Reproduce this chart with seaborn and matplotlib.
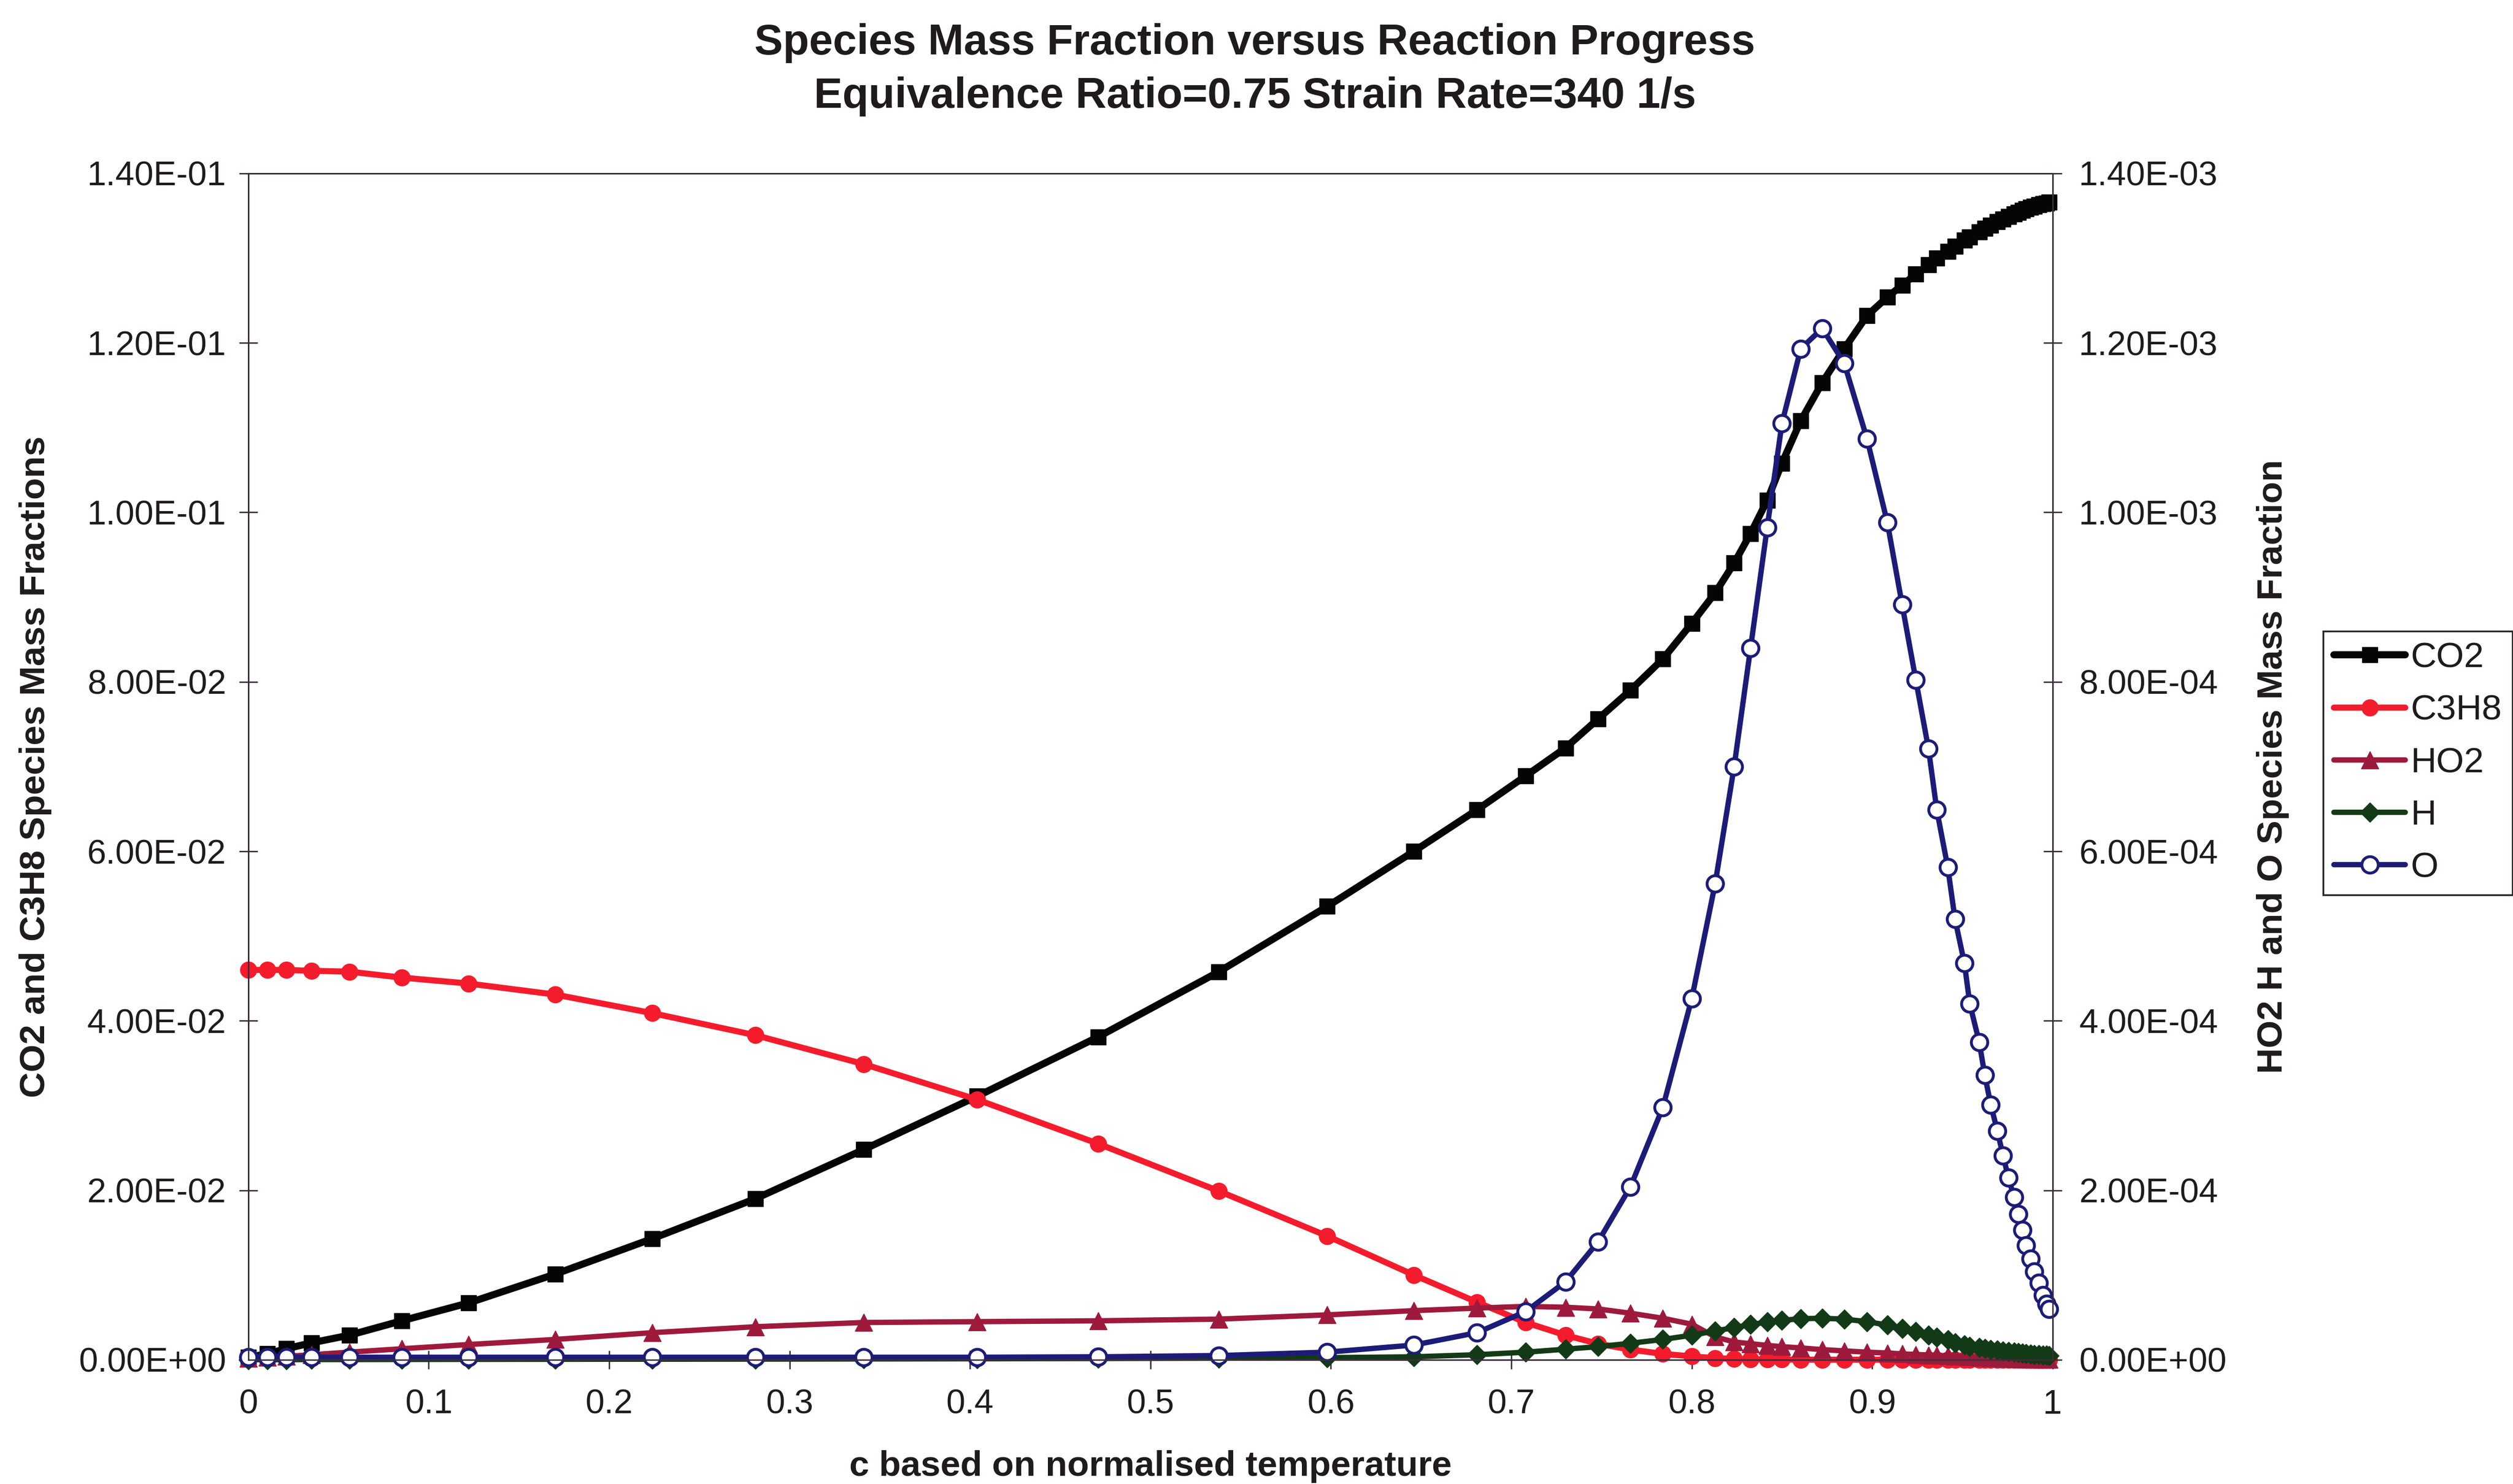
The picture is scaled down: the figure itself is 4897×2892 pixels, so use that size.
import matplotlib
matplotlib.use("Agg")
import matplotlib.pyplot as plt
from matplotlib.ticker import FuncFormatter, MultipleLocator
import seaborn as sns

# ---------------- data ----------------
c_progress = [0.0, 0.0105, 0.021, 0.035, 0.056, 0.085, 0.122, 0.170, 0.224, 0.281,
              0.341, 0.404, 0.471, 0.538, 0.598, 0.646, 0.681, 0.708, 0.730, 0.748,
              0.766, 0.784, 0.800, 0.813, 0.8235, 0.8326, 0.8418, 0.850, 0.8604, 0.8723,
              0.8845, 0.8971, 0.9084, 0.9166, 0.9242, 0.9312, 0.9358, 0.9419, 0.9459, 0.9511,
              0.9541, 0.9593, 0.9624, 0.9657, 0.9694, 0.9725, 0.9755, 0.9786, 0.9810, 0.9832,
              0.9853, 0.9877, 0.9899, 0.9923, 0.9945, 0.9965, 0.9980]

co2 = [0.0003, 0.0007, 0.0013, 0.0020, 0.0029, 0.0046, 0.0067, 0.0101, 0.0143, 0.0190,
       0.0248, 0.0311, 0.0381, 0.0458, 0.0535, 0.0600, 0.0649, 0.0689, 0.0722, 0.0756,
       0.0790, 0.0827, 0.0869, 0.0905, 0.0940, 0.0975, 0.1014, 0.1058, 0.1108, 0.1153,
       0.1193, 0.1232, 0.1254, 0.1268, 0.1281, 0.1292, 0.1300, 0.1308, 0.1314, 0.1321,
       0.1325, 0.1331, 0.1335, 0.1339, 0.1343, 0.1346, 0.1349, 0.1352, 0.1354, 0.1356,
       0.1358, 0.1360, 0.1361, 0.1363, 0.1364, 0.1365, 0.1366]

c3h8 = [0.0460, 0.0460, 0.0460, 0.0459, 0.0458, 0.0451, 0.0444, 0.0431, 0.0409, 0.0383,
        0.0349, 0.0307, 0.0255, 0.0199, 0.0146, 0.0100, 0.0068, 0.0044, 0.0029, 0.0019,
        0.0012, 0.0007, 0.0004, 0.0002, 0.0001, 0.00006, 0.00004, 0.00003, 0.00002, 0.00001,
        0.00001, 0.00001, 0.00001, 0.00001, 0.00001, 0.00001, 0.00001, 0.00001, 0.00001, 0.00001,
        0.00001, 0.00001, 0.00001, 0.00001, 0.00001, 0.00001, 0.00001, 0.0, 0.0, 0.0,
        0.0, 0.0, 0.0, 0.0, 0.0, 0.0, 0.0]

ho2 = [2.0e-6, 3.0e-6, 4.0e-6, 6.0e-6, 9.0e-6, 13e-6, 18e-6, 24e-6, 32e-6, 39e-6,
       44e-6, 45e-6, 46e-6, 48e-6, 53e-6, 58e-6, 61e-6, 63e-6, 62e-6, 60e-6,
       55e-6, 49e-6, 42e-6, 27e-6, 21e-6, 19e-6, 17e-6, 15.5e-6, 14e-6, 12e-6,
       10.5e-6, 9.0e-6, 8.0e-6, 7.0e-6, 6.3e-6, 5.7e-6, 5.2e-6, 4.7e-6, 4.3e-6, 3.9e-6,
       3.5e-6, 3.1e-6, 2.8e-6, 2.5e-6, 2.2e-6, 1.9e-6, 1.7e-6, 1.5e-6, 1.3e-6, 1.1e-6,
       1.0e-6, 0.8e-6, 0.7e-6, 0.6e-6, 0.5e-6, 0.4e-6, 0.3e-6]

h_atom = [0.2e-6, 0.2e-6, 0.2e-6, 0.3e-6, 0.3e-6, 0.4e-6, 0.5e-6, 0.6e-6, 0.7e-6, 0.8e-6,
          1.0e-6, 1.2e-6, 1.5e-6, 1.9e-6, 2.5e-6, 3.5e-6, 6.0e-6, 9.0e-6, 12.5e-6, 15.5e-6,
          19.5e-6, 24e-6, 29e-6, 34e-6, 38e-6, 41.5e-6, 44.5e-6, 46.5e-6, 48.5e-6, 49e-6,
          48e-6, 45e-6, 41e-6, 37e-6, 33e-6, 29e-6, 26.5e-6, 23.5e-6, 20e-6, 17.5e-6,
          16e-6, 14.3e-6, 13.3e-6, 12.3e-6, 11.4e-6, 10.5e-6, 9.7e-6, 8.9e-6, 8.2e-6, 7.6e-6,
          7.1e-6, 6.6e-6, 6.2e-6, 5.8e-6, 5.5e-6, 5.2e-6, 5.0e-6]

o_atom = [3e-6, 3e-6, 3e-6, 3e-6, 3e-6, 3e-6, 3e-6, 3e-6, 3e-6, 3e-6,
          3e-6, 3e-6, 3.5e-6, 5e-6, 9e-6, 17.4e-6, 32e-6, 57e-6, 92e-6, 139e-6,
          204e-6, 298e-6, 426e-6, 562e-6, 700e-6, 840e-6, 982e-6, 1105e-6, 1193e-6, 1217e-6,
          1176e-6, 1087e-6, 988e-6, 891e-6, 802e-6, 721e-6, 649e-6, 581e-6, 520e-6, 468e-6,
          420e-6, 375e-6, 336e-6, 301e-6, 270e-6, 241e-6, 215e-6, 192e-6, 172e-6, 153e-6,
          135e-6, 119e-6, 104e-6, 91e-6, 76e-6, 66e-6, 60e-6]

title_line1 = "Species Mass Fraction versus Reaction Progress"
title_line2 = "Equivalence Ratio=0.75 Strain Rate=340 1/s"
x_label = "c based on normalised temperature"
y_label_left = "CO2 and C3H8 Species Mass Fractions"
y_label_right = "HO2 H and O Species Mass Fraction"

# ---------------- style ----------------
sns.set_style("white")
plt.rcParams["font.family"] = ["Liberation Sans", "DejaVu Sans"]

AX_COL = "#3b2f3b"
TXT_COL = "#1e1a1e"
FS = 48
LFS = 50

fig = plt.figure(figsize=(48.97, 28.92), dpi=100)
fig.patch.set_facecolor("white")
ax = fig.add_axes([0.0988, 0.0837, 0.7180, 0.7995])
ax2 = ax.twinx()

# left-axis series
sns.lineplot(x=c_progress, y=co2, ax=ax, color="#050505", linewidth=10,
             marker="s", markersize=21, markeredgecolor="#050505", markeredgewidth=1,
             label="CO2", sort=False, estimator=None, legend=False, clip_on=False)
sns.lineplot(x=c_progress, y=c3h8, ax=ax, color="#f41c2c", linewidth=8.5,
             marker="o", markersize=23, markeredgecolor="#f41c2c", markeredgewidth=1,
             label="C3H8", sort=False, estimator=None, legend=False, clip_on=False)

# right-axis series
sns.lineplot(x=c_progress, y=ho2, ax=ax2, color="#9e1a3c", linewidth=7.5,
             marker="^", markersize=24, markeredgecolor="#9e1a3c", markeredgewidth=1,
             label="HO2", sort=False, estimator=None, legend=False, clip_on=False)
sns.lineplot(x=c_progress, y=h_atom, ax=ax2, color="#133a16", linewidth=7.5,
             marker="D", markersize=19, markeredgecolor="#133a16", markeredgewidth=1,
             label="H", sort=False, estimator=None, legend=False, clip_on=False)
sns.lineplot(x=c_progress, y=o_atom, ax=ax2, color="#1c1c78", linewidth=7.5,
             marker="o", markersize=23, markerfacecolor="white", markeredgecolor="#1c1c78",
             markeredgewidth=4, label="O", sort=False, estimator=None, legend=False,
             clip_on=False)

# ---------------- axes ----------------
ax.set_xlim(0, 1)
ax.set_ylim(0, 0.14)
ax2.set_ylim(0, 0.0014)

ax.xaxis.set_major_locator(MultipleLocator(0.1))
ax.yaxis.set_major_locator(MultipleLocator(0.02))
ax2.yaxis.set_major_locator(MultipleLocator(0.0002))

sci = FuncFormatter(lambda v, p: f"{v:.2E}")
ax.yaxis.set_major_formatter(sci)
ax2.yaxis.set_major_formatter(sci)
ax.xaxis.set_major_formatter(FuncFormatter(lambda v, p: f"{v:g}"))

ax.tick_params(axis="x", direction="inout", length=26, width=2, color=AX_COL,
               labelsize=FS, labelcolor=TXT_COL, pad=28, bottom=True, top=False)
ax.tick_params(axis="y", direction="inout", length=26, width=2, color=AX_COL,
               labelsize=FS, labelcolor=TXT_COL, pad=18, left=True, right=False)
ax2.tick_params(axis="y", direction="inout", length=26, width=2, color=AX_COL,
                labelsize=FS, labelcolor=TXT_COL, pad=24, right=True, left=False)

for a in (ax, ax2):
    for s in a.spines.values():
        s.set_color(AX_COL)
        s.set_linewidth(2)
    a.grid(False)

ax.set_xlabel(x_label, fontsize=LFS, fontweight="bold", color=TXT_COL)
ax.xaxis.set_label_coords(0.5, -0.090)
ax.xaxis.label.set_va("center")

ax.set_ylabel(y_label_left, fontsize=LFS, fontweight="bold", color=TXT_COL)
ax.yaxis.set_label_coords(-0.118, 0.5)
ax.yaxis.label.set_va("center")

ax2.set_ylabel(y_label_right, fontsize=LFS, fontweight="bold", color=TXT_COL)
ax2.yaxis.set_label_coords(1.122, 0.5)
ax2.yaxis.label.set_va("center")

# ---------------- titles ----------------
fig.text(0.4993, 0.971, title_line1, ha="center", va="center",
         fontsize=60, fontweight="bold", color=TXT_COL)
fig.text(0.4993, 0.935, title_line2, ha="center", va="center",
         fontsize=60, fontweight="bold", color=TXT_COL)

# ---------------- legend ----------------
h1, l1 = ax.get_legend_handles_labels()
h2, l2 = ax2.get_legend_handles_labels()
leg = fig.legend(h1 + h2, l1 + l2, loc="upper left", bbox_to_anchor=(0.9245, 0.5747),
                 frameon=True, fancybox=False, edgecolor="#2a222a", facecolor="white",
                 framealpha=1, fontsize=50, handlelength=2.0, handletextpad=0.15,
                 labelspacing=0.55, borderpad=0.3, borderaxespad=0, numpoints=1)
leg.get_frame().set_linewidth(2.5)
for t in leg.get_texts():
    t.set_color(TXT_COL)

fig.savefig("out.png", dpi=100, facecolor="white")
